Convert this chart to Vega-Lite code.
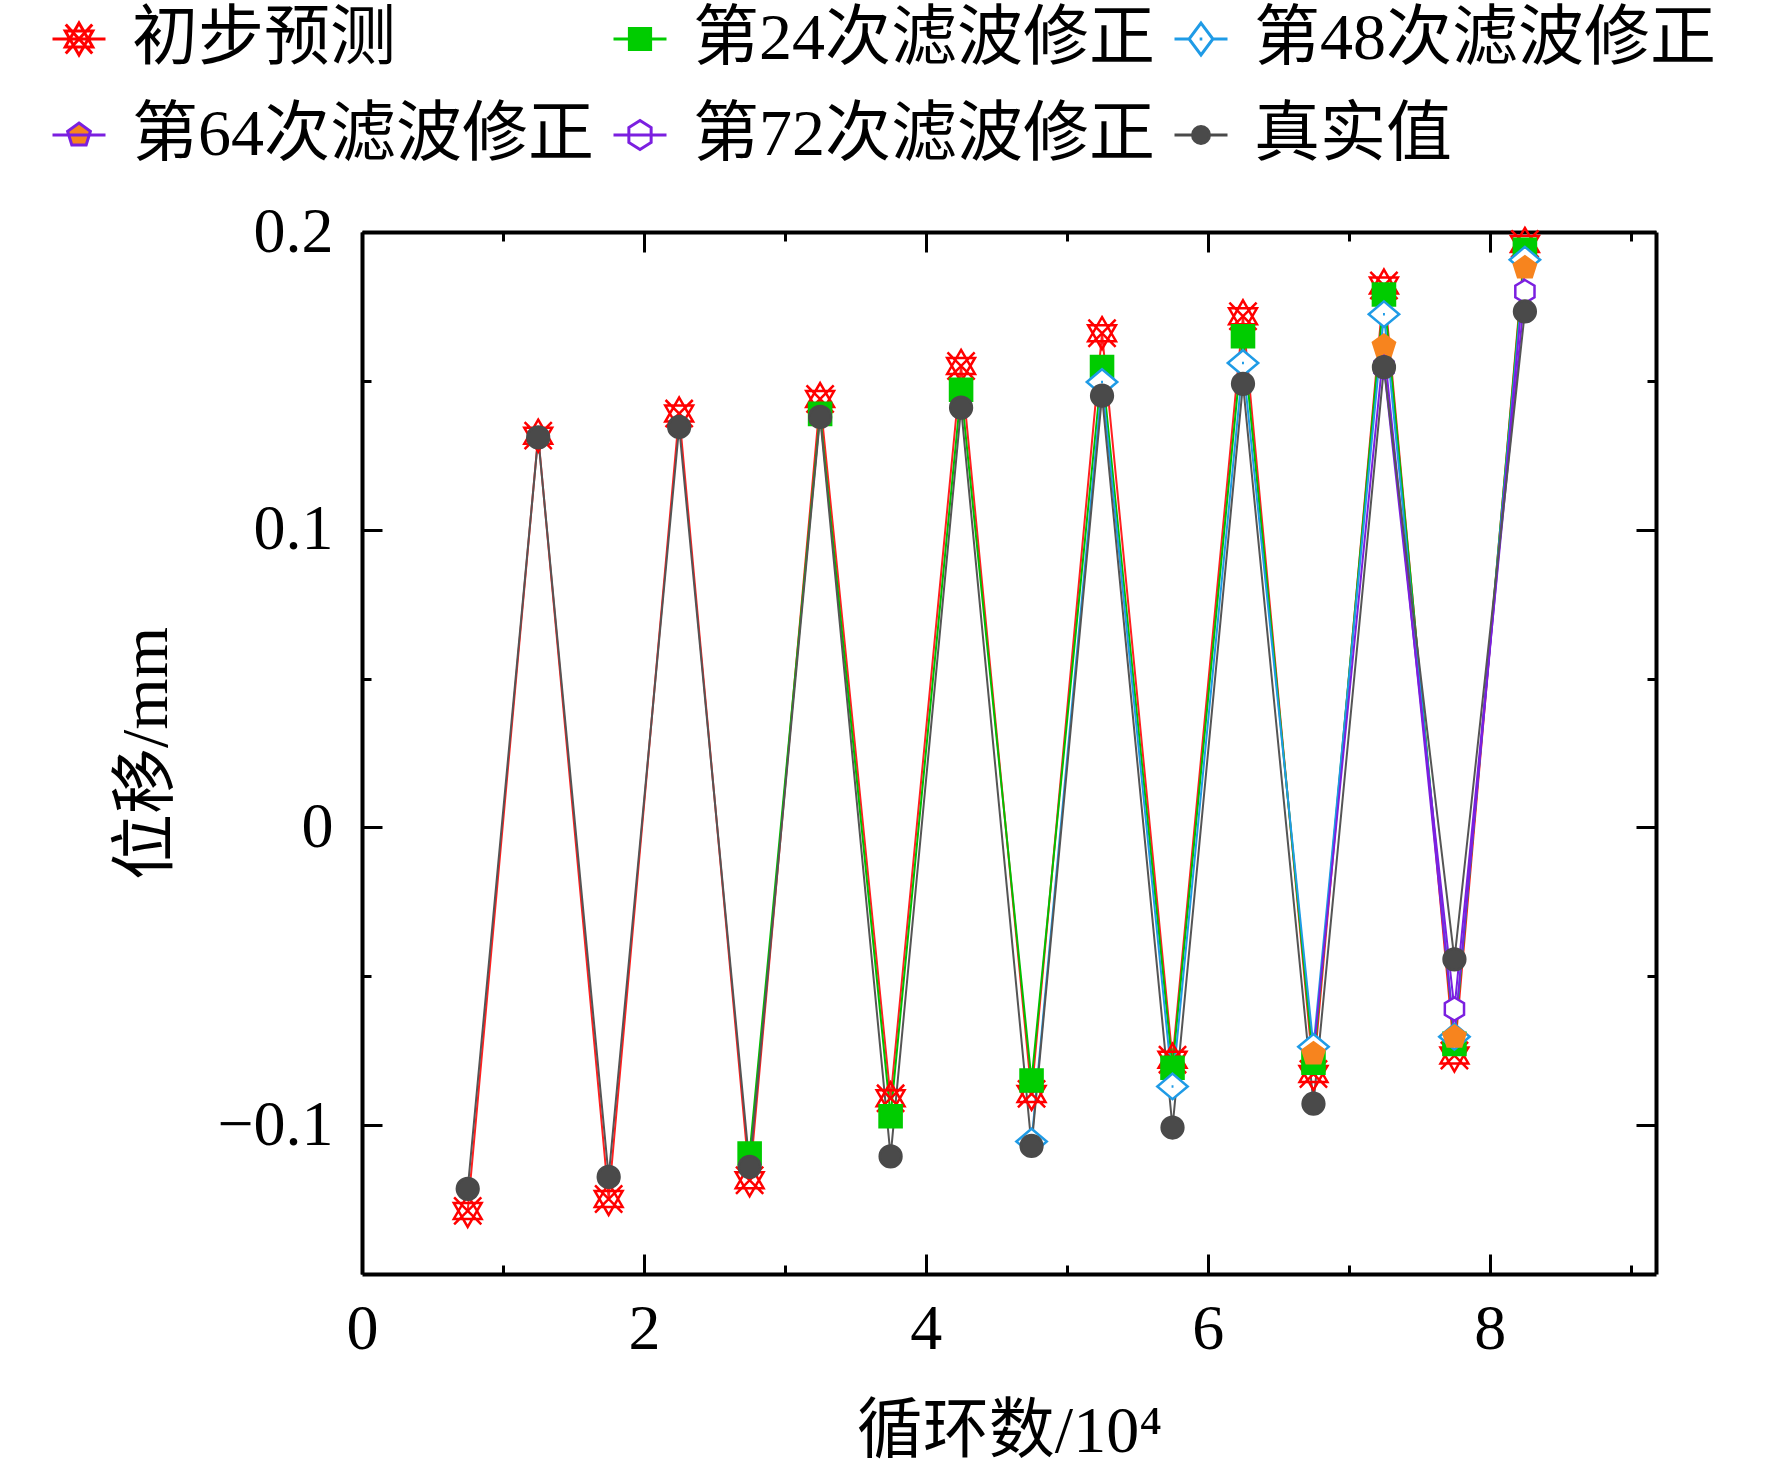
{
  "$schema": "https://vega.github.io/schema/vega-lite/v6.json",
  "width": 1294,
  "height": 1042,
  "autosize": {"type": "none"},
  "padding": {"left": 362, "top": 232, "right": 116, "bottom": 196},
  "background": "white",
  "config": {
    "view": {"stroke": null},
    "axis": {
      "grid": false,
      "domainColor": "black",
      "domainWidth": 4,
      "tickColor": "black",
      "tickWidth": 3,
      "labelFont": "Liberation Serif",
      "labelFontSize": 64,
      "labelColor": "black",
      "labelFlush": false,
      "labelOverlap": false,
      "titleFont": "Liberation Serif, Noto Sans CJK SC",
      "titleFontSize": 66,
      "titleFontWeight": "normal",
      "titleColor": "black"
    },
    "legend": {
      "orient": "none",
      "legendX": -316,
      "legendY": -226,
      "direction": "horizontal",
      "columns": 3,
      "columnPadding": 13,
      "rowPadding": 30,
      "labelFont": "Liberation Serif, Noto Sans CJK SC",
      "labelFontSize": 66,
      "labelColor": "black",
      "labelLimit": 1000,
      "labelOffset": 20,
      "symbolSize": 2809,
      "symbolStrokeWidth": 3,
      "symbolOpacity": 1
    }
  },
  "data": {
    "values": [
      {"s": "初步预测", "x": 0.75, "y": -0.1288},
      {"s": "初步预测", "x": 1.25, "y": 0.1316},
      {"s": "初步预测", "x": 1.75, "y": -0.1248},
      {"s": "初步预测", "x": 2.25, "y": 0.139},
      {"s": "初步预测", "x": 2.75, "y": -0.1185},
      {"s": "初步预测", "x": 3.25, "y": 0.1439},
      {"s": "初步预测", "x": 3.75, "y": -0.091},
      {"s": "初步预测", "x": 4.25, "y": 0.155},
      {"s": "初步预测", "x": 4.75, "y": -0.0895},
      {"s": "初步预测", "x": 5.25, "y": 0.166},
      {"s": "初步预测", "x": 5.75, "y": -0.078},
      {"s": "初步预测", "x": 6.25, "y": 0.1717},
      {"s": "初步预测", "x": 6.75, "y": -0.0828},
      {"s": "初步预测", "x": 7.25, "y": 0.182},
      {"s": "初步预测", "x": 7.75, "y": -0.0766},
      {"s": "初步预测", "x": 8.25, "y": 0.196},
      {"s": "第24次滤波修正", "x": 2.75, "y": -0.1095},
      {"s": "第24次滤波修正", "x": 3.25, "y": 0.1389},
      {"s": "第24次滤波修正", "x": 3.75, "y": -0.097},
      {"s": "第24次滤波修正", "x": 4.25, "y": 0.147},
      {"s": "第24次滤波修正", "x": 4.75, "y": -0.085},
      {"s": "第24次滤波修正", "x": 5.25, "y": 0.1546},
      {"s": "第24次滤波修正", "x": 5.75, "y": -0.0807},
      {"s": "第24次滤波修正", "x": 6.25, "y": 0.165},
      {"s": "第24次滤波修正", "x": 6.75, "y": -0.079},
      {"s": "第24次滤波修正", "x": 7.25, "y": 0.179},
      {"s": "第24次滤波修正", "x": 7.75, "y": -0.0727},
      {"s": "第24次滤波修正", "x": 8.25, "y": 0.194},
      {"s": "第48次滤波修正", "x": 4.75, "y": -0.1055},
      {"s": "第48次滤波修正", "x": 5.25, "y": 0.1496},
      {"s": "第48次滤波修正", "x": 5.75, "y": -0.087},
      {"s": "第48次滤波修正", "x": 6.25, "y": 0.156},
      {"s": "第48次滤波修正", "x": 6.75, "y": -0.0737},
      {"s": "第48次滤波修正", "x": 7.25, "y": 0.1724},
      {"s": "第48次滤波修正", "x": 7.75, "y": -0.0703},
      {"s": "第48次滤波修正", "x": 8.25, "y": 0.1907},
      {"s": "第64次滤波修正", "x": 6.75, "y": -0.076},
      {"s": "第64次滤波修正", "x": 7.25, "y": 0.1617},
      {"s": "第64次滤波修正", "x": 7.75, "y": -0.0704},
      {"s": "第64次滤波修正", "x": 8.25, "y": 0.188},
      {"s": "第72次滤波修正", "x": 7.25, "y": 0.1546},
      {"s": "第72次滤波修正", "x": 7.75, "y": -0.061},
      {"s": "第72次滤波修正", "x": 8.25, "y": 0.18},
      {"s": "真实值", "x": 0.75, "y": -0.1214},
      {"s": "真实值", "x": 1.25, "y": 0.131},
      {"s": "真实值", "x": 1.75, "y": -0.1174},
      {"s": "真实值", "x": 2.25, "y": 0.1345},
      {"s": "真实值", "x": 2.75, "y": -0.114},
      {"s": "真实值", "x": 3.25, "y": 0.1379},
      {"s": "真实值", "x": 3.75, "y": -0.1105},
      {"s": "真实值", "x": 4.25, "y": 0.141},
      {"s": "真实值", "x": 4.75, "y": -0.107},
      {"s": "真实值", "x": 5.25, "y": 0.145},
      {"s": "真实值", "x": 5.75, "y": -0.1008},
      {"s": "真实值", "x": 6.25, "y": 0.149},
      {"s": "真实值", "x": 6.75, "y": -0.0928},
      {"s": "真实值", "x": 7.25, "y": 0.1546},
      {"s": "真实值", "x": 7.75, "y": -0.0443},
      {"s": "真实值", "x": 8.25, "y": 0.1733}
    ]
  },
  "layer": [
    {
      "transform": [{"filter": "false"}],
      "mark": {"type": "point", "opacity": 1},
      "encoding": {
        "shape": {
          "field": "s", "type": "nominal",
          "scale": {
            "domain": ["初步预测", "第24次滤波修正", "第48次滤波修正", "第64次滤波修正", "第72次滤波修正", "真实值"],
            "range": [
              "M-1,0L1,0M-0.5,-0.55L0.5,0.55M-0.5,0.55L0.5,-0.55M0,-0.6L0.52,0.3L-0.52,0.3ZM0,0.6L0.52,-0.3L-0.52,-0.3Z",
              "M-1,0L1,0M-0.4,-0.4L0.4,-0.4L0.4,0.4L-0.4,0.4Z",
              "M-1,0L-0.45,0M0.45,0L1,0M0,-0.6L0.45,0L0,0.6L-0.45,0ZM-0.05,0L0.05,0",
              "M-1,0L1,0M0,-0.45L0.43,-0.14L0.27,0.38L-0.27,0.38L-0.43,-0.14Z",
              "M-1,0L1,0M0,-0.55L0.42,-0.28L0.42,0.28L0,0.55L-0.42,0.28L-0.42,-0.28Z",
              "M-1,0L1,0M0.32,0A0.32,0.32 0 1,1 -0.32,0A0.32,0.32 0 1,1 0.32,0Z"
            ]
          },
          "legend": {"title": null}
        },
        "fill": {
          "field": "s", "type": "nominal",
          "scale": {
            "domain": ["初步预测", "第24次滤波修正", "第48次滤波修正", "第64次滤波修正", "第72次滤波修正", "真实值"],
            "range": ["transparent", "#00cc00", "white", "#f7841e", "white", "#4a4a4a"]
          },
          "legend": {"title": null}
        },
        "stroke": {
          "field": "s", "type": "nominal",
          "scale": {
            "domain": ["初步预测", "第24次滤波修正", "第48次滤波修正", "第64次滤波修正", "第72次滤波修正", "真实值"],
            "range": ["#ff0000", "#00cc00", "#1f9be6", "#7b1fe0", "#7b1fe0", "#4a4a4a"]
          },
          "legend": {"title": null}
        }
      }
    },
    {
      "mark": {"type": "line", "strokeWidth": 2},
      "encoding": {
        "x": {
          "field": "x", "type": "quantitative",
          "scale": {"domain": [0, 9.18], "nice": false, "zero": false},
          "axis": {
            "orient": "bottom",
            "values": [0, 1, 2, 3, 4, 5, 6, 7, 8, 9],
            "labelExpr": "datum.value % 2 === 0 ? datum.label : ''",
            "tickSize": {"condition": {"test": "datum.value % 2 === 0", "value": -20}, "value": -9},
            "labelPadding": 43,
            "title": "循环数/10⁴",
            "titlePadding": 27
          }
        },
        "y": {
          "field": "y", "type": "quantitative",
          "scale": {"domain": [-0.15, 0.2], "nice": false, "zero": false},
          "axis": {
            "orient": "left",
            "values": [-0.1, -0.05, 0, 0.05, 0.1, 0.15, 0.2],
            "labelExpr": "abs(round(datum.value * 20)) % 2 === 0 ? (datum.value === 0 ? '0' : format(datum.value, '.1f')) : ''",
            "tickSize": {"condition": {"test": "abs(round(datum.value * 20)) % 2 === 0", "value": -20}, "value": -9},
            "labelPadding": 49,
            "title": "位移/mm",
            "titlePadding": 36
          }
        },
        "color": {
          "field": "s", "type": "nominal",
          "scale": {
            "domain": ["初步预测", "第24次滤波修正", "第48次滤波修正", "第64次滤波修正", "第72次滤波修正", "真实值"],
            "range": ["#ff2020", "#00c000", "#1f9be6", "#7b1fe0", "#7b1fe0", "#555555"]
          },
          "legend": null
        }
      }
    },
    {
      "mark": {"type": "point", "size": 1024, "strokeWidth": 2.5, "opacity": 1},
      "encoding": {
        "x": {"field": "x", "type": "quantitative", "axis": null},
        "y": {"field": "y", "type": "quantitative", "axis": null},
        "shape": {
          "field": "s", "type": "nominal",
          "scale": {
            "domain": ["初步预测", "第24次滤波修正", "第48次滤波修正", "第64次滤波修正", "第72次滤波修正", "真实值"],
            "range": [
              "M-0.85,-0.85L0.85,0.85M-0.85,0.85L0.85,-0.85M0,-1L0.87,0.5L-0.87,0.5ZM0,1L0.87,-0.5L-0.87,-0.5Z",
              "M-0.69,-0.69L0.69,-0.69L0.69,0.69L-0.69,0.69Z",
              "M0,-0.8L0.95,0L0,0.8L-0.95,0ZM-0.06,0L0.06,0",
              "M0,-0.72L0.69,-0.22L0.43,0.6L-0.43,0.6L-0.69,-0.22Z",
              "M0,-0.72L0.6,-0.36L0.6,0.36L0,0.72L-0.6,0.36L-0.6,-0.36Z",
              "M0.68,0A0.68,0.68 0 1,1 -0.68,0A0.68,0.68 0 1,1 0.68,0Z"
            ]
          },
          "legend": null
        },
        "fill": {
          "field": "s", "type": "nominal",
          "scale": {
            "domain": ["初步预测", "第24次滤波修正", "第48次滤波修正", "第64次滤波修正", "第72次滤波修正", "真实值"],
            "range": ["transparent", "#00cc00", "white", "#f7841e", "white", "#4a4a4a"]
          },
          "legend": null
        },
        "stroke": {
          "field": "s", "type": "nominal",
          "scale": {
            "domain": ["初步预测", "第24次滤波修正", "第48次滤波修正", "第64次滤波修正", "第72次滤波修正", "真实值"],
            "range": ["#ff0000", "#00cc00", "#1f9be6", "#f7841e", "#7b1fe0", "#4a4a4a"]
          },
          "legend": null
        }
      }
    },
    {
      "transform": [{"filter": "false"}],
      "mark": {"type": "point"},
      "encoding": {
        "x": {
          "field": "x", "type": "quantitative",
          "axis": {
            "orient": "top",
            "values": [0, 1, 2, 3, 4, 5, 6, 7, 8, 9],
            "labels": false,
            "title": null,
            "tickSize": {"condition": {"test": "datum.value % 2 === 0", "value": -20}, "value": -9}
          }
        },
        "y": {
          "field": "y", "type": "quantitative",
          "axis": {
            "orient": "right",
            "values": [-0.1, -0.05, 0, 0.05, 0.1, 0.15, 0.2],
            "labels": false,
            "title": null,
            "tickSize": {"condition": {"test": "abs(round(datum.value * 20)) % 2 === 0", "value": -20}, "value": -9}
          }
        }
      }
    }
  ],
  "resolve": {
    "scale": {"shape": "independent", "fill": "independent", "stroke": "independent"},
    "axis": {"x": "independent", "y": "independent"}
  }
}
